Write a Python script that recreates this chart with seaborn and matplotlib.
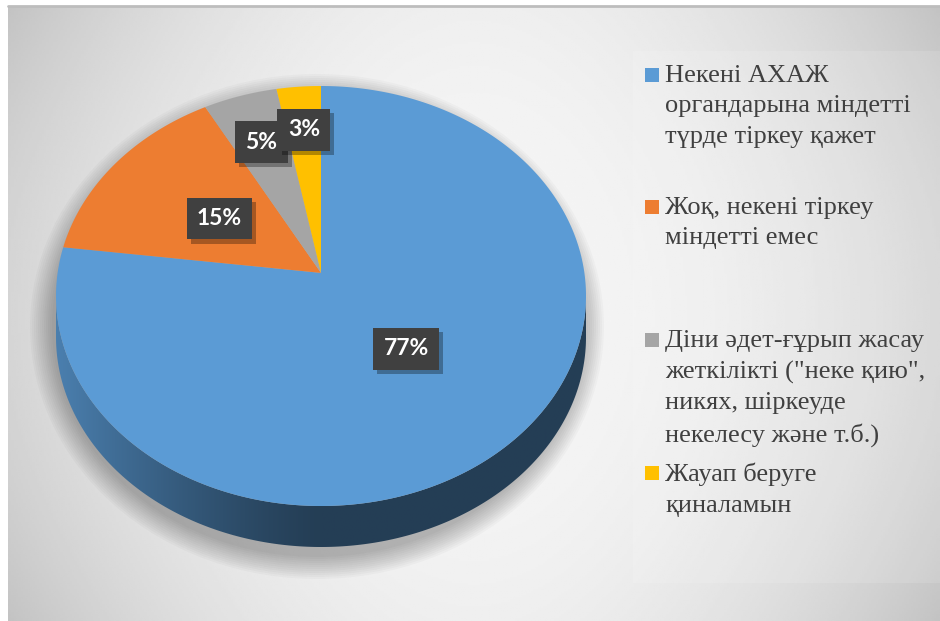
import numpy as np
import matplotlib.pyplot as plt
import matplotlib.patheffects as pe
import seaborn as sns
from matplotlib.patches import Polygon, Ellipse, Rectangle

# survey answers and their shares (%)
categories = [
    "Некені АХАЖ\nоргандарына міндетті\nтүрде тіркеу қажет",
    "Жоқ, некені тіркеу\nміндетті емес",
    "Діни әдет-ғұрып жасау\nжеткілікті (\"неке қию\",\nникях, шіркеуде\nнекелесу және т.б.)",
    "Жауап беруге\nқиналамын",
]
shares = [77, 15, 5, 3]
colors = ["#5b9bd5", "#ed7d31", "#a5a5a5", "#ffc000"]

sns.set_theme(style="white")
plt.rcParams["font.family"] = ["Liberation Serif", "DejaVu Serif"]
plt.rcParams["patch.force_edgecolor"] = False
palette = sns.color_palette(colors)

W, H = 940, 621
fig = plt.figure(figsize=(W / 100, H / 100), dpi=100)
fig.patch.set_facecolor("white")

# grey radial background of the chart area
bg = fig.add_axes([8 / W, 0, (W - 8) / W, (H - 6) / H], zorder=0)
u = np.linspace(-1, 1, 400)[None, :]
v = np.linspace(-1, 1, 300)[:, None]
shade = 0.965 - 0.13 * u ** 2 - 0.03 * v ** 2 - 0.04 * u ** 2 * v ** 2
bg.imshow(shade, cmap="gray", vmin=0, vmax=1, aspect="auto", extent=[0, 1, 0, 1])
bg.add_patch(Rectangle(((633 - 8) / (W - 8), (H - 583) / (H - 6)), 1, (583 - 51) / (H - 6),
                       transform=bg.transAxes, fc="white", alpha=0.12, ec="none"))
bg.plot([0, 1], [1, 1], color="#bdbdbd", lw=2, transform=bg.transAxes, clip_on=False)
bg.set_axis_off()

# pie geometry (pixels): ellipse centre, radii, side depth, perspective tilt
cx, cy, rx, ry = 321, 296, 265, 210
depth = 41 / ry
beta = 0.11

ax = fig.add_axes([0, 0, 1, 1], zorder=1)
ax.patch.set_alpha(0)

wedges, _ = ax.pie(shares, colors=palette, startangle=90, counterclock=False,
                   radius=1, center=(0, 0), wedgeprops=dict(linewidth=0))
ax.set_aspect("auto")
ax.set_xlim(-cx / rx, (W - cx) / rx)
ax.set_ylim((cy - H) / ry, cy / ry)
ax.set_axis_off()


def tilt(x, y):
    # projective tilt: keeps the rim on the ellipse, lifts the centre
    den = 1 + beta * y
    return x * np.sqrt(1 - beta ** 2) / den, (y + beta) / den


# soft shadow under the pie
for s in np.linspace(22, 0, 12):
    ax.add_patch(Ellipse((-4 / rx, -depth / 2 - 10 / ry), 2 * (rx + s) / rx,
                         2 * (ry + s) / ry + depth, fc="black", ec="none",
                         alpha=0.025, zorder=1))

# top faces and side wall
for w, col in zip(wedges, palette):
    t = np.radians(np.linspace(w.theta1, w.theta2, 400))
    rim_x, rim_y = tilt(np.cos(t), np.sin(t))
    cx0, cy0 = tilt(0.0, 0.0)
    top = np.column_stack([np.r_[cx0, rim_x], np.r_[cy0, rim_y]])
    w.set_visible(False)
    ax.add_patch(Polygon(top, closed=True, fc=col, ec="none", zorder=3))

    low = rim_y <= 0
    if low.sum() > 1:
        order = np.argsort(rim_x[low])
        sx, sy = rim_x[low][order], rim_y[low][order]
        side = Polygon(np.column_stack([np.r_[sx, sx[::-1]], np.r_[sy, sy[::-1] - depth]]),
                       closed=True, fc="none", ec="none")
        ax.add_patch(side)
        gx = np.linspace(-1, 1, 300)
        f = 0.4 + 0.42 * np.clip(-gx, 0, 1) ** 1.3
        grad = np.clip(np.array(col)[None, None, :] * f[None, :, None], 0, 1)
        im = ax.imshow(np.repeat(grad, 2, axis=0), extent=[-1, 1, -1 - depth, 0.05],
                       aspect="auto", zorder=2, interpolation="bilinear")
        im.set_clip_path(side)

# percentage labels in dark boxes
label_dist = [0.47, 0.48, 0.72, 0.75]
for w, pct, r in zip(wedges, shares, label_dist):
    mid = np.radians((w.theta1 + w.theta2) / 2)
    px, py = tilt(r * np.cos(mid), r * np.sin(mid))
    txt = ax.text(px, py, f"{pct}%", ha="center", va="center", fontsize=16.5,
                  fontweight="bold", family="Lato", color="white", zorder=5,
                  bbox=dict(boxstyle="square,pad=0.45", fc="#404040", ec="none"))
    txt.get_bbox_patch().set_path_effects(
        [pe.SimplePatchShadow(offset=(3, -3), shadow_rgbFace="black", alpha=0.3), pe.Normal()])

# legend on the right
entry_y = [75, 207, 340, 473]
for lab, col, yc in zip(categories, palette, entry_y):
    fig.add_artist(Rectangle((645 / W, 1 - (yc + 7) / H), 14 / W, 14 / H,
                             transform=fig.transFigure, fc=col, ec="none", zorder=3))
    fig.text(665 / W, 1 - (yc - 10) / H, lab, ha="left", va="top",
             fontsize=19, color="#404040", linespacing=1.49, zorder=3)

fig.savefig("out.png", dpi=100)
